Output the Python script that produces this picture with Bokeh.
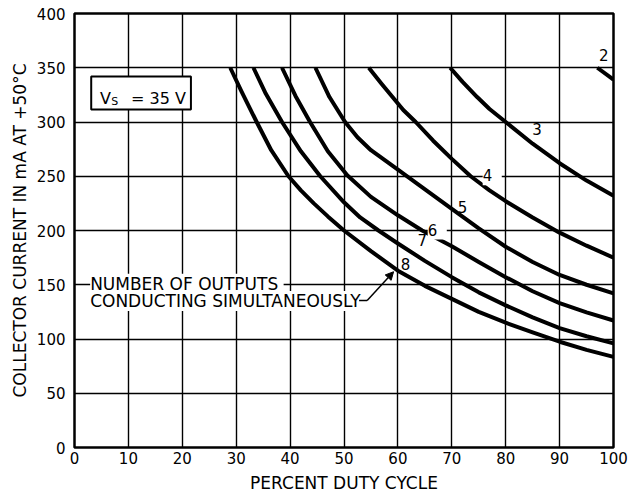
from bokeh.plotting import figure
from bokeh.models import FixedTicker, Label, BoxAnnotation, Arrow, NormalHead
from bokeh.embed import file_html
from bokeh.resources import INLINE

# ---------------- data ----------------
x_ticks = [0, 10, 20, 30, 40, 50, 60, 70, 80, 90, 100]
y_ticks = [0, 50, 100, 150, 200, 250, 300, 350, 400]

duty_2 = [97, 100]
current_2 = [350, 339]
duty_3 = [69.7, 72, 74.7, 77, 80, 85, 90, 95, 100]
current_3 = [350, 337, 323, 312, 300, 280, 262, 246, 232]
duty_4 = [54.6, 57, 59, 61, 63.3, 66.5, 70, 73.5, 77, 80, 85, 90, 95, 100]
current_4 = [350, 335, 323, 311, 300, 283, 266, 250, 237, 227, 212, 198, 186, 175]
duty_5 = [44.7, 47.3, 50.2, 52.5, 55, 60, 64.2, 70, 75, 80, 85, 90, 95, 100]
current_5 = [350, 323, 300, 286, 274, 256, 241, 220, 202, 185, 171, 159, 150, 142]
duty_6 = [38.5, 41, 43.7, 47, 50.6, 55, 60, 64.5, 70, 75, 80, 85, 90, 95, 100]
current_6 = [350, 324, 300, 273, 251, 231, 214, 200, 185.5, 171, 157, 144, 133, 124.5, 117]
duty_7 = [33.2, 35.5, 38.5, 42, 45.6, 50, 53, 56.4, 60, 65, 70, 75, 80, 85, 90, 95, 100]
current_7 = [350, 326, 300, 273, 250, 226, 212, 200, 188, 172, 157, 143, 131, 120, 110, 102.5, 96]
duty_8 = [28.9, 31, 33.8, 36.5, 39.7, 42, 44.4, 47, 50, 55, 60, 65, 70, 75, 80, 85, 90, 95, 100]
current_8 = [350, 328, 300, 274, 250, 237, 225, 213, 200, 181, 163, 149, 137, 125, 115, 106, 97.5, 90, 83.5]

curve_names = ["2", "3", "4", "5", "6", "7", "8"]
curves = [(duty_2, current_2), (duty_3, current_3), (duty_4, current_4),
          (duty_5, current_5), (duty_6, current_6), (duty_7, current_7),
          (duty_8, current_8)]

# ---------------- layout (label positions, styles) ----------------
curve_label_pos = [(98.2, 362), (85.8, 294), (77.5, 250), (72, 222),
                   (67.3, 200), (64.5, 191), (61.4, 169.5)]
curve_label_bg = [False, False, True, False, True, False, False]

FONT = "DejaVu Sans"

p = figure(width=632, height=495,
           x_range=(0, 100), y_range=(0, 400),
           output_backend="svg", toolbar_location=None,
           min_border_left=74, min_border_right=19,
           min_border_top=13, min_border_bottom=48)

p.background_fill_color = "white"
p.border_fill_color = "white"
p.outline_line_color = "black"
p.outline_line_width = 2.5

# grid
p.xgrid.ticker = FixedTicker(ticks=x_ticks)
p.ygrid.ticker = FixedTicker(ticks=y_ticks)
for g in (p.xgrid, p.ygrid):
    g.grid_line_color = "black"
    g.grid_line_width = 1.4
    g.grid_line_alpha = 1.0

# axes
p.xaxis.ticker = FixedTicker(ticks=x_ticks)
p.yaxis.ticker = FixedTicker(ticks=y_ticks)
for ax in (p.xaxis, p.yaxis):
    ax.axis_line_color = None
    ax.major_tick_line_color = None
    ax.minor_tick_line_color = None
    ax.major_tick_in = 0
    ax.major_tick_out = 0
    ax.major_label_text_font = FONT
    ax.major_label_text_font_size = "15px"
    ax.major_label_text_color = "black"
    ax.axis_label_text_font = FONT
    ax.axis_label_text_font_style = "normal"
    ax.axis_label_text_color = "black"

p.xaxis.axis_label = "PERCENT DUTY CYCLE"
p.yaxis.axis_label = "COLLECTOR CURRENT IN mA AT +50°C"
p.xaxis.axis_label_text_font_size = "17px"
p.yaxis.axis_label_text_font_size = "17px"
p.yaxis.major_label_standoff = 9
p.yaxis.axis_label_standoff = 4
p.xaxis.major_label_standoff = 4
p.xaxis.axis_label_standoff = 6

# curves
for (xs, ys) in curves:
    p.line(xs, ys, line_color="black", line_width=4, line_join="round", line_cap="butt")

# curve number labels
for name, (lx, ly), bg in zip(curve_names, curve_label_pos, curve_label_bg):
    lab = Label(x=lx, y=ly, text=(" %s " % name) if bg else name,
                text_font=FONT, text_font_size="15px", text_color="black",
                text_align="center", text_baseline="middle")
    if bg:
        lab.background_fill_color = "white"
    p.add_layout(lab)

# Vs box
p.add_layout(BoxAnnotation(left=3.1, right=21.6, bottom=311.5, top=342,
                           fill_color="white", fill_alpha=1.0,
                           line_color="black", line_width=2, line_alpha=1.0))
p.add_layout(Label(x=4.75, y=322, text="V", text_font=FONT, text_font_size="16px",
                   text_align="left", text_baseline="middle", text_color="black"))
p.add_layout(Label(x=6.8, y=318.5, text="S", text_font=FONT, text_font_size="11px",
                   text_align="left", text_baseline="middle", text_color="black"))
p.add_layout(Label(x=10.5, y=322, text="=  35 V", text_font=FONT, text_font_size="16px",
                   text_align="left", text_baseline="middle", text_color="black"))

# annotation text
p.add_layout(Label(x=2.9, y=151, text="NUMBER OF OUTPUTS ", text_font=FONT,
                   text_font_size="17px", text_align="left", text_baseline="middle",
                   text_color="black", background_fill_color="white"))
p.add_layout(Label(x=2.9, y=135, text="CONDUCTING SIMULTANEOUSLY", text_font=FONT,
                   text_font_size="17px", text_align="left", text_baseline="middle",
                   text_color="black", background_fill_color="white"))
p.add_layout(Arrow(end=None, x_start=52.8, y_start=135.4, x_end=54.3, y_end=135.4,
                   line_color="black", line_width=1.5))
p.add_layout(Arrow(end=NormalHead(size=8, fill_color="black", line_color="black"),
                   x_start=54.3, y_start=135.4, x_end=59.2, y_end=162,
                   line_color="black", line_width=1.5))

open("out.html", "w").write(file_html(p, INLINE))
